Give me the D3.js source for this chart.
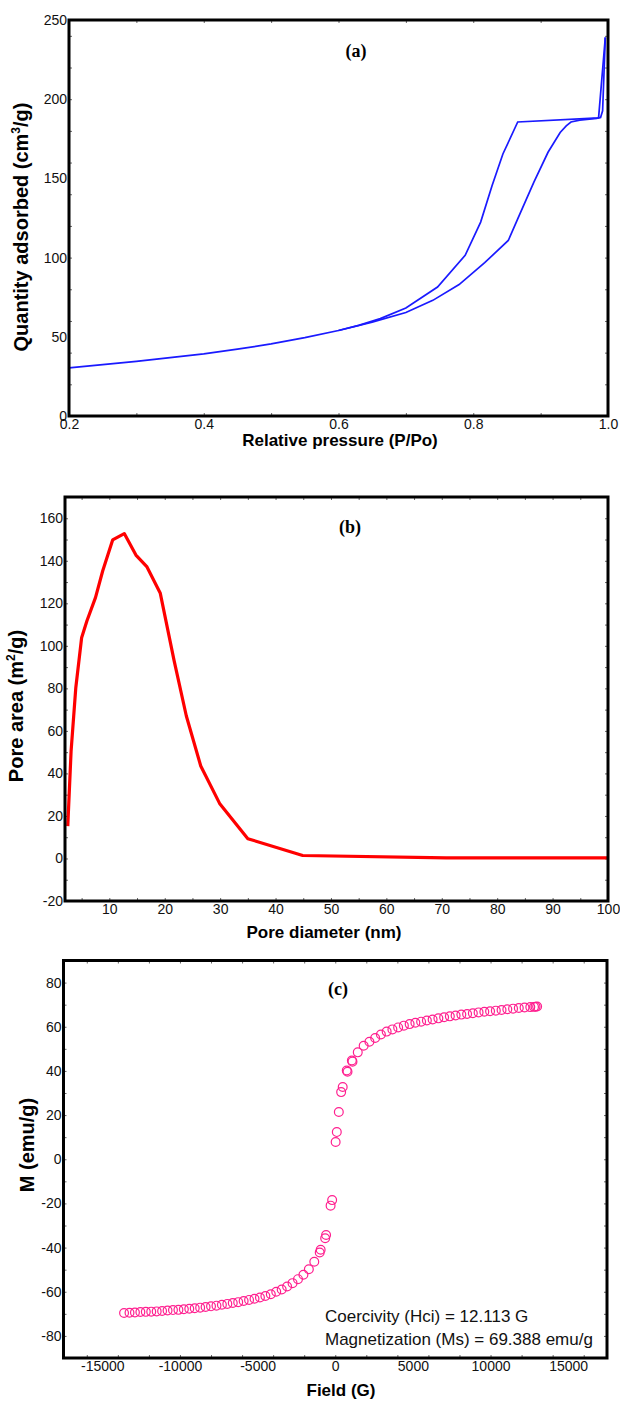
<!DOCTYPE html>
<html>
<head>
<meta charset="utf-8">
<title>isotherm, pore area, magnetization</title>
<script src="https://cdnjs.cloudflare.com/ajax/libs/d3/7.8.5/d3.min.js"></script>
<style>
  body{margin:0;background:#fff;}
  svg{display:block;font-family:"Liberation Sans",Arial,sans-serif;}
  .lbl text{font-size:14px;fill:#111;}
  .ttl{font-size:17px;font-weight:bold;fill:#000;}
  .ytl{font-size:20px;}
  .tag{font-family:"Liberation Serif","Times New Roman",serif;font-size:18px;font-weight:bold;fill:#000;}
  .note{font-size:17px;fill:#111;}
</style>
</head>
<body>
<div id="chart"></div>
<script>
// (a) N2 adsorption / desorption isotherm
var adsP = [0.2,0.25,0.3,0.35,0.4,0.45,0.5,0.55,0.6,0.65,0.7,0.74,0.779,0.817,0.852,0.866,0.89,0.911,0.929,0.938,0.945,0.958,0.983,0.989,0.992,0.996];
var adsQ = [30.4,32.4,34.5,36.8,39.2,42.2,45.5,49.5,54.0,59.3,65.3,73,83,96.8,110.8,124.5,147.6,166.5,179,183.2,185.6,186.8,187.9,188.5,192.7,239];
var desP = [0.996,0.986,0.866,0.844,0.828,0.811,0.788,0.747,0.7,0.662,0.63,0.6];
var desQ = [239,188.2,185.6,165.4,145.5,122.4,101.4,81.4,68.2,61.5,57.2,54.0];
var aXLabels = [0.2,0.4,0.6,0.8,1.0];
var aYLabels = [0,50,100,150,200,250];

// (b) pore area distribution
var poreD = [2.5,3.1,3.95,5.0,5.95,7.5,8.8,10.6,12.7,14.8,16.8,19.2,21.7,23.9,26.5,29.9,35.0,44.9,70.8,100];
var poreA = [15.2,50.5,80.3,103.8,111.7,122.7,135.2,149.8,152.8,142.7,137.1,124.7,92.9,67.0,43.5,25.9,9.3,1.4,0.3,0.3];
var bXLabels = [10,20,30,40,50,60,70,80,90,100];
var bYLabels = [-20,0,20,40,60,80,100,120,140,160];

// (c) M-H loop
var fieldG = [-13600,-13250,-12900,-12550,-12200,-11850,-11500,-11150,-10800,-10450,-10100,-9750,-9400,-9050,-8700,-8350,-8000,-7650,-7300,-6950,-6600,-6250,-5900,-5550,-5200,-4850,-4500,-4150,-3800,-3450,-3100,-2750,-2400,-2050,-1700,-1350,-1000,-940,-650,-590,-300,-200,25,100,230,380,480,740,790,1070,1110,1450,1830,2200,2570,2940,3310,3680,4050,4420,4790,5160,5530,5900,6270,6640,7010,7380,7750,8120,8490,8860,9230,9600,9970,10340,10710,11080,11450,11820,12190,12560,12800,12900,13000];
var magM = [-69.6,-69.5,-69.4,-69.2,-69.1,-69.0,-68.9,-68.7,-68.5,-68.3,-68.2,-67.9,-67.7,-67.5,-67.2,-66.9,-66.6,-66.3,-65.9,-65.5,-65.1,-64.7,-64.2,-63.7,-63.2,-62.6,-61.9,-61.1,-60.0,-59.0,-57.6,-56.1,-54.3,-52.3,-49.8,-46.4,-42.2,-41.0,-35.8,-34.3,-21.0,-18.5,7.8,12.3,21.4,30.4,32.7,40.2,39.6,44.7,44.2,48.4,51.4,53.2,54.9,56.5,57.8,58.8,59.7,60.5,61.2,61.8,62.3,62.8,63.3,63.8,64.3,64.7,65.1,65.5,65.8,66.1,66.5,66.8,67.0,67.3,67.6,67.9,68.2,68.5,68.7,68.9,69.0,69.1,69.2];
var cXLabels = [-15000,-10000,-5000,0,5000,10000,15000];
var cYLabels = [-80,-60,-40,-20,0,20,40,60,80];
var noteLines = ["Coercivity (Hci) = 12.113 G", "Magnetization (Ms) = 69.388 emu/g"];

var svg = d3.select("#chart").append("svg")
    .attr("width", 620)
    .attr("height", 1401);

// plain hyphen for negatives, like the original plot
var plain = function(d){ return String(d); };

function panel(box, xDom, yDom, xLab, yLab, xMinor, yMinor, fmt){
  var x = d3.scaleLinear().domain(xDom).range([box.l, box.r]);
  var y = d3.scaleLinear().domain(yDom).range([box.b, box.t]);
  var g = svg.append("g");

  // small inward ticks on all four sides
  var tk = g.append("g").attr("class","minor");
  tk.append("g").attr("transform","translate(0,"+box.b+")")
    .call(d3.axisBottom(x).ticks(xMinor).tickSize(-3).tickFormat(""));
  tk.append("g").attr("transform","translate(0,"+box.t+")")
    .call(d3.axisTop(x).ticks(xMinor).tickSize(-3).tickFormat(""));
  tk.append("g").attr("transform","translate("+box.l+",0)")
    .call(d3.axisLeft(y).ticks(yMinor).tickSize(-3).tickFormat(""));
  tk.append("g").attr("transform","translate("+box.r+",0)")
    .call(d3.axisRight(y).ticks(yMinor).tickSize(-3).tickFormat(""));
  tk.selectAll(".domain").remove();
  tk.selectAll(".tick line").attr("stroke","#666").attr("stroke-width",1);

  var xa = g.append("g").attr("class","lbl")
    .attr("transform","translate(0,"+box.b+")")
    .call(d3.axisBottom(x).tickValues(xLab).tickSize(0).tickPadding(3).tickFormat(fmt || plain));
  var ya = g.append("g").attr("class","lbl")
    .attr("transform","translate("+box.l+",0)")
    .call(d3.axisLeft(y).tickValues(yLab).tickSize(0).tickPadding(2).tickFormat(plain));
  xa.select(".domain").remove();
  ya.select(".domain").remove();
  d3.selectAll(".lbl").attr("font-family",null).attr("font-size",null);

  return {g:g, x:x, y:y, box:box};
}

function frame(p){
  p.g.append("rect")
    .attr("x",p.box.l).attr("y",p.box.t)
    .attr("width",p.box.r-p.box.l).attr("height",p.box.b-p.box.t)
    .attr("fill","none").attr("stroke","#000").attr("stroke-width",3);
}

function yTitle(x, y, parts){
  var t = svg.append("text").attr("class","ttl ytl")
    .attr("transform","translate("+x+","+y+") rotate(-90)")
    .attr("text-anchor","middle");
  t.append("tspan").text(parts[0]);
  if(parts.length > 1){
    t.append("tspan").attr("dy",-8).attr("font-size",12).text(parts[1]);
    t.append("tspan").attr("dy",8).text(parts[2]);
  }
}

function xTitle(x, y, s){
  svg.append("text").attr("class","ttl").attr("x",x).attr("y",y)
    .attr("text-anchor","middle").text(s);
}

function tag(x, y, s){
  svg.append("text").attr("class","tag").attr("x",x).attr("y",y)
    .attr("text-anchor","middle").text(s);
}

// ---- (a)
var pa = panel({l:69,r:608,t:20,b:416}, [0.2,1.0], [0,250], aXLabels, aYLabels, 8, 10, d3.format(".1f"));
var lineA = d3.line().x(function(d){return pa.x(d[0]);}).y(function(d){return pa.y(d[1]);});
pa.g.append("path").datum(d3.zip(adsP, adsQ)).attr("d", lineA)
  .attr("fill","none").attr("stroke","#1a1aff").attr("stroke-width",1.7);
pa.g.append("path").datum(d3.zip(desP, desQ)).attr("d", lineA)
  .attr("fill","none").attr("stroke","#1a1aff").attr("stroke-width",1.7);
frame(pa);
tag(356, 57, "(a)");
xTitle(340, 446, "Relative pressure (P/Po)");
yTitle(28, 227, ["Quantity adsorbed (cm","3","/g)"]);

// ---- (b)
var pb = panel({l:65,r:608,t:497,b:901}, [2,100], [-20,170], bXLabels, bYLabels, 20, 19);
var lineB = d3.line().x(function(d){return pb.x(d[0]);}).y(function(d){return pb.y(d[1]);});
pb.g.append("path").datum(d3.zip(poreD, poreA)).attr("d", lineB)
  .attr("fill","none").attr("stroke","#ff0000").attr("stroke-width",3.2)
  .attr("stroke-linejoin","round");
frame(pb);
tag(350, 533, "(b)");
xTitle(324, 938, "Pore diameter (nm)");
yTitle(23, 706, ["Pore area (m","2","/g)"]);

// ---- (c)
var pc = panel({l:63.5,r:607,t:960.5,b:1358}, [-17500,17500], [-90,90], cXLabels, cYLabels, 14, 18);
pc.g.append("g").selectAll("circle")
  .data(d3.zip(fieldG, magM))
  .enter().append("circle")
  .attr("cx", function(d){return pc.x(d[0]);})
  .attr("cy", function(d){return pc.y(d[1]);})
  .attr("r", 4.4)
  .attr("fill","none")
  .attr("stroke","#ff1f8f")
  .attr("stroke-width",1.2);
frame(pc);
tag(338, 995, "(c)");
xTitle(341, 1396, "Field (G)");
yTitle(34, 1145, ["M (emu/g)"]);

svg.selectAll(".note").data(noteLines).enter().append("text")
  .attr("class","note")
  .attr("x", 325)
  .attr("y", function(d,i){ return 1322 + i*23; })
  .text(function(d){ return d; });
</script>
</body>
</html>
